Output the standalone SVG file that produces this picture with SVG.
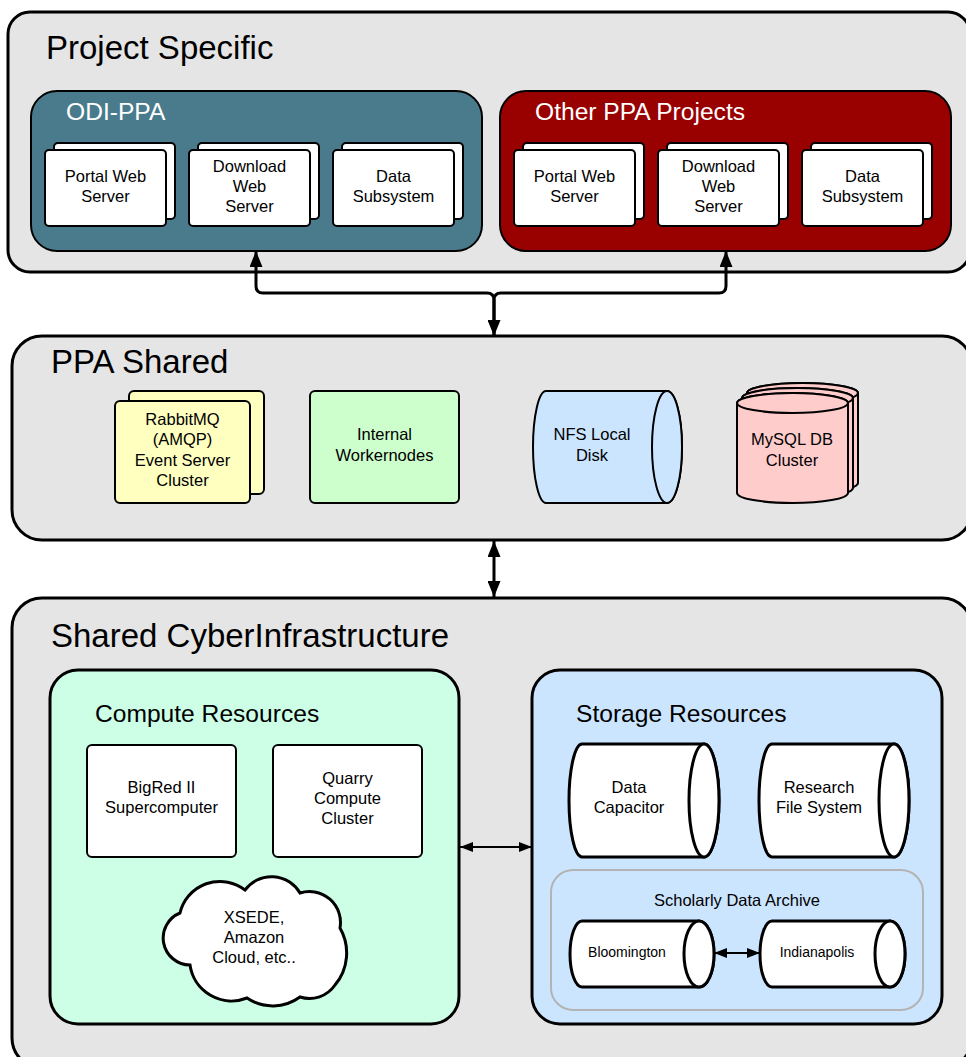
<svg xmlns="http://www.w3.org/2000/svg" width="966" height="1057" viewBox="0 0 966 1057">
<style>
text{font-family:"Liberation Sans",Arial,sans-serif;fill:#000}
.cont{fill:#e5e5e5;stroke:#000;stroke-width:3}
.big{font-size:33px}
.sub{font-size:24.6px}
.lbl{font-size:16.5px;text-anchor:middle}
.sm{font-size:14px;text-anchor:middle}
.wn{fill:#fff;stroke:#000;stroke-width:2}
.conn{fill:none;stroke:#000;stroke-width:3}
.conn2{fill:none;stroke:#000;stroke-width:2}
</style>
<defs>
<marker id="ah" viewBox="0 0 16 13" refX="16" refY="6.5" markerWidth="16" markerHeight="13" markerUnits="userSpaceOnUse" orient="auto-start-reverse"><path d="M0,0 L16,6.5 L0,13 z" fill="#000"/></marker>
<marker id="ahs" viewBox="0 0 13 10" refX="13" refY="5" markerWidth="13" markerHeight="10" markerUnits="userSpaceOnUse" orient="auto-start-reverse"><path d="M0,0 L13,5 L0,10 z" fill="#000"/></marker>
</defs>

<g id="project-specific">
<rect class="cont" x="8" y="12" width="962" height="260" rx="22"/>
<text class="big" x="46" y="59">Project Specific</text>
</g>

<g id="odi-ppa">
<rect x="31" y="91" width="451" height="160" rx="26" fill="#4a7b8c" stroke="#000" stroke-width="2"/>
<text class="sub" x="66" y="120" style="fill:#fff">ODI-PPA</text>
</g>
<g id="odi-portal">
<rect class="wn" x="54" y="143" width="121" height="76" rx="4"/>
<rect class="wn" x="45" y="150" width="121" height="76" rx="4"/>
<text class="lbl" x="105.5" y="182">Portal Web</text>
<text class="lbl" x="105.5" y="202">Server</text>
</g>
<g id="odi-download">
<rect class="wn" x="198" y="143" width="121" height="76" rx="4"/>
<rect class="wn" x="189" y="150" width="121" height="76" rx="4"/>
<text class="lbl" x="249.5" y="172">Download</text>
<text class="lbl" x="249.5" y="192">Web</text>
<text class="lbl" x="249.5" y="212">Server</text>
</g>
<g id="odi-data">
<rect class="wn" x="342" y="143" width="121" height="76" rx="4"/>
<rect class="wn" x="333" y="150" width="121" height="76" rx="4"/>
<text class="lbl" x="393.5" y="182">Data</text>
<text class="lbl" x="393.5" y="202">Subsystem</text>
</g>

<g id="other-ppa">
<rect x="500" y="91" width="451" height="160" rx="26" fill="#990000" stroke="#000" stroke-width="2"/>
<text class="sub" x="535" y="120" style="fill:#fff">Other PPA Projects</text>
</g>
<g id="other-portal">
<rect class="wn" x="523" y="143" width="121" height="76" rx="4"/>
<rect class="wn" x="514" y="150" width="121" height="76" rx="4"/>
<text class="lbl" x="574.5" y="182">Portal Web</text>
<text class="lbl" x="574.5" y="202">Server</text>
</g>
<g id="other-download">
<rect class="wn" x="667" y="143" width="121" height="76" rx="4"/>
<rect class="wn" x="658" y="150" width="121" height="76" rx="4"/>
<text class="lbl" x="718.5" y="172">Download</text>
<text class="lbl" x="718.5" y="192">Web</text>
<text class="lbl" x="718.5" y="212">Server</text>
</g>
<g id="other-data">
<rect class="wn" x="811" y="143" width="121" height="76" rx="4"/>
<rect class="wn" x="802" y="150" width="121" height="76" rx="4"/>
<text class="lbl" x="862.5" y="182">Data</text>
<text class="lbl" x="862.5" y="202">Subsystem</text>
</g>

<g id="ppa-shared">
<rect class="cont" x="12" y="336" width="960" height="204" rx="30"/>
<text class="big" x="51" y="373">PPA Shared</text>
</g>
<g id="rabbitmq">
<rect x="129" y="391" width="135" height="103" rx="5" fill="#ffffc0" stroke="#000" stroke-width="2"/>
<rect x="115" y="401" width="135" height="102" rx="5" fill="#ffffc0" stroke="#000" stroke-width="2"/>
<text class="lbl" x="182.5" y="425">RabbitMQ</text>
<text class="lbl" x="182.5" y="445">(AMQP)</text>
<text class="lbl" x="182.5" y="466">Event Server</text>
<text class="lbl" x="182.5" y="486">Cluster</text>
</g>
<g id="workernodes">
<rect x="310" y="391" width="149" height="112" rx="5" fill="#ccffcc" stroke="#000" stroke-width="2"/>
<text class="lbl" x="384.5" y="440">Internal</text>
<text class="lbl" x="384.5" y="461">Workernodes</text>
</g>
<g id="nfs">
<path d="M546,391 H667 A15,56 0 0 1 667,503 H546 A13,56 0 0 1 546,391 Z" fill="#cce5ff" stroke="#000" stroke-width="2"/>
<ellipse cx="667" cy="447" rx="15" ry="56" fill="#cce5ff" stroke="#000" stroke-width="2"/>
<text class="lbl" x="592" y="440">NFS Local</text>
<text class="lbl" x="592" y="461">Disk</text>
</g>
<g id="mysql">
<path d="M747,393 A55.5,10 0 0 1 858,393 V483 A55.5,10 0 0 1 747,483 Z" fill="#ffcccc" stroke="#000" stroke-width="2"/>
<ellipse cx="802.5" cy="393" rx="55.5" ry="10" fill="#ffcccc" stroke="#000" stroke-width="2"/>
<path d="M742,398 A55.5,10 0 0 1 853,398 V488 A55.5,10 0 0 1 742,488 Z" fill="#ffcccc" stroke="#000" stroke-width="2"/>
<ellipse cx="797.5" cy="398" rx="55.5" ry="10" fill="#ffcccc" stroke="#000" stroke-width="2"/>
<path d="M737,403 A55.5,10 0 0 1 848,403 V493 A55.5,10 0 0 1 737,493 Z" fill="#ffcccc" stroke="#000" stroke-width="2"/>
<ellipse cx="792.5" cy="403" rx="55.5" ry="10" fill="#ffcccc" stroke="#000" stroke-width="2"/>
<text class="lbl" x="792" y="445">MySQL DB</text>
<text class="lbl" x="792" y="466">Cluster</text>
</g>

<g id="shared-ci">
<rect class="cont" x="12" y="598" width="960" height="470" rx="30"/>
<text class="big" x="51" y="647">Shared CyberInfrastructure</text>
</g>
<g id="compute">
<rect x="50" y="670" width="409" height="354" rx="28" fill="#ccffe6" stroke="#000" stroke-width="3"/>
<text class="sub" x="95" y="722">Compute Resources</text>
</g>
<g id="bigred">
<rect class="wn" x="87" y="745" width="149" height="112" rx="5"/>
<text class="lbl" x="161.5" y="793">BigRed II</text>
<text class="lbl" x="161.5" y="813">Supercomputer</text>
</g>
<g id="quarry">
<rect class="wn" x="273" y="745" width="149" height="112" rx="5"/>
<text class="lbl" x="347.5" y="784">Quarry</text>
<text class="lbl" x="347.5" y="804">Compute</text>
<text class="lbl" x="347.5" y="824">Cluster</text>
</g>
<g id="cloud">
<path d="M180,913 A41,41 0 0 1 245,890 A33,33 0 0 1 300,893 A31,31 0 0 1 340,928 A50,50 0 0 1 335,985 A31,31 0 0 1 300,997 A46,46 0 0 1 247,998 A42,42 0 0 1 190,965 A27,27 0 0 1 180,913 Z" fill="#fff" stroke="#000" stroke-width="3"/>
<text class="lbl" x="254" y="923">XSEDE,</text>
<text class="lbl" x="254" y="943">Amazon</text>
<text class="lbl" x="254" y="963">Cloud, etc..</text>
</g>

<g id="storage">
<rect x="532" y="670" width="410" height="354" rx="28" fill="#cce5ff" stroke="#000" stroke-width="3"/>
<text class="sub" x="576" y="722">Storage Resources</text>
</g>
<g id="data-capacitor">
<path d="M582,744 H704 A15,56.5 0 0 1 704,857 H582 A13,56.5 0 0 1 582,744 Z" fill="#fff" stroke="#000" stroke-width="3"/>
<ellipse cx="704" cy="800.5" rx="15" ry="56.5" fill="#fff" stroke="#000" stroke-width="3"/>
<text class="lbl" x="629" y="793">Data</text>
<text class="lbl" x="629" y="813">Capacitor</text>
</g>
<g id="research-fs">
<path d="M772,744 H894 A15,56.5 0 0 1 894,857 H772 A13,56.5 0 0 1 772,744 Z" fill="#fff" stroke="#000" stroke-width="3"/>
<ellipse cx="894" cy="800.5" rx="15" ry="56.5" fill="#fff" stroke="#000" stroke-width="3"/>
<text class="lbl" x="819" y="793">Research</text>
<text class="lbl" x="819" y="813">File System</text>
</g>
<g id="sda">
<rect x="551" y="870" width="372" height="140" rx="22" fill="none" stroke="#b3b3b3" stroke-width="2"/>
<text class="lbl" x="737" y="906">Scholarly Data Archive</text>
</g>
<g id="bloomington">
<path d="M582,921 H699 A15,33 0 0 1 699,987 H582 A12,33 0 0 1 582,921 Z" fill="#fff" stroke="#000" stroke-width="3"/>
<ellipse cx="699" cy="954" rx="15" ry="33" fill="#fff" stroke="#000" stroke-width="3"/>
<text class="sm" x="627" y="957">Bloomington</text>
</g>
<g id="indianapolis">
<path d="M772,921 H890 A15,33 0 0 1 890,987 H772 A12,33 0 0 1 772,921 Z" fill="#fff" stroke="#000" stroke-width="3"/>
<ellipse cx="890" cy="954" rx="15" ry="33" fill="#fff" stroke="#000" stroke-width="3"/>
<text class="sm" x="817" y="957">Indianapolis</text>
</g>

<g id="connectors">
<path class="conn" d="M256,251 V286 Q256,293 263,293 H487 Q494,293 494,300 V336" marker-start="url(#ah)" marker-end="url(#ah)"/>
<path class="conn" d="M726,251 V286 Q726,293 719,293 H501 Q494,293 494,300 V336" marker-start="url(#ah)"/>
<path class="conn" d="M494,541 V597" marker-start="url(#ah)" marker-end="url(#ah)"/>
<path class="conn2" d="M460,847 H532" marker-start="url(#ahs)" marker-end="url(#ahs)"/>
<path class="conn2" d="M714,953 H760" marker-start="url(#ahs)" marker-end="url(#ahs)"/>
</g>
</svg>
